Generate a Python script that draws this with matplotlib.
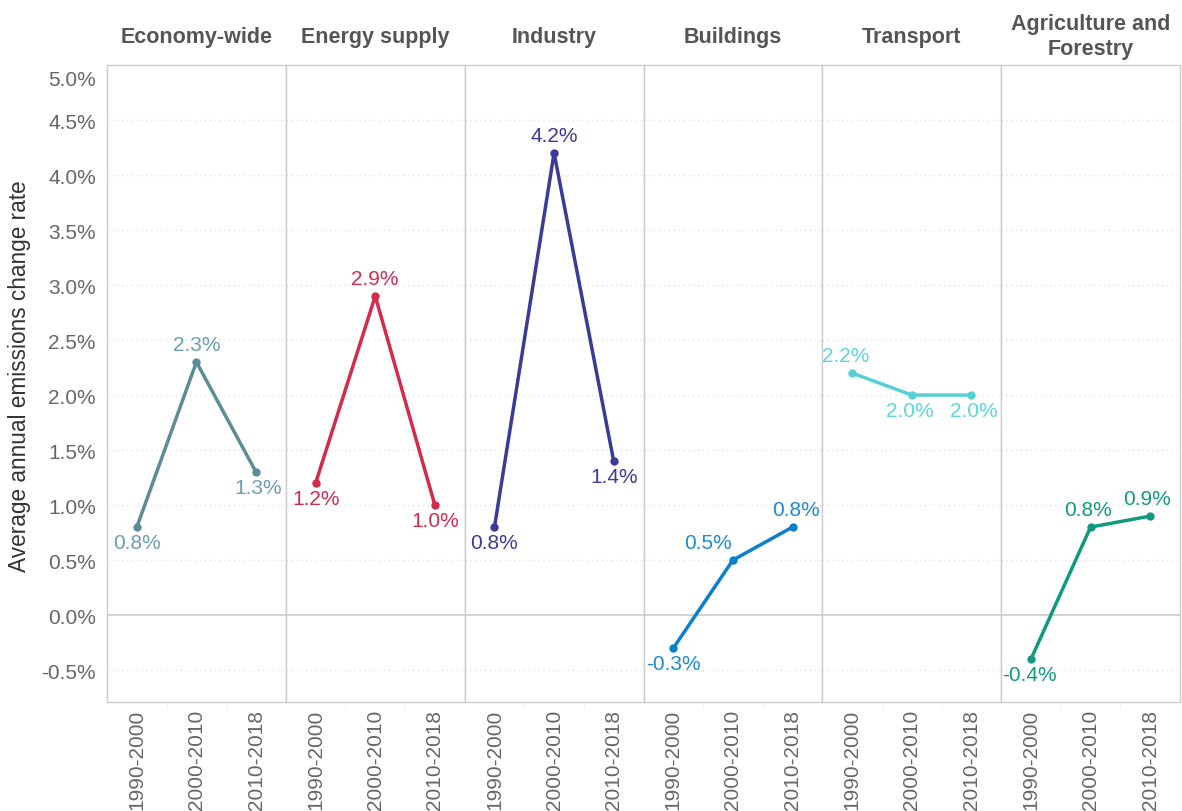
import matplotlib
matplotlib.use("Agg")
import matplotlib.pyplot as plt
import matplotlib.ticker as mticker
from matplotlib.transforms import ScaledTranslation

plt.rcParams['font.family'] = ['Liberation Sans', 'DejaVu Sans']

# Sectors and periods
sectors = ["Economy-wide", "Energy supply", "Industry", "Buildings",
           "Transport", "Agriculture and\nForestry"]
periods = ["1990-2000", "2000-2010", "2010-2018"]

# Average annual emissions change rate (%)
economy = [0.8, 2.3, 1.3]
energy = [1.2, 2.9, 1.0]
industry = [0.8, 4.2, 1.4]
buildings = [-0.3, 0.5, 0.8]
transport = [2.2, 2.0, 2.0]
agriculture = [-0.4, 0.8, 0.9]

series = [economy, energy, industry, buildings, transport, agriculture]
colors = ["#5b8c97", "#d42a4c", "#3a3a98", "#0b7fcb", "#55d1d6", "#0f9a80"]
label_colors = ["#6b9fab", "#d42a4c", "#3a3a98", "#1c8ad3", "#5ad6dc", "#0f9a80"]

# label placement per point: (dx pixels, side) ; side 1 = above, -1 = below
placement = [
    [(0, -1), (0, 1), (2, -1)],
    [(0, -1), (0, 1), (0, -1)],
    [(0, -1), (0, 1), (0, -1)],
    [(0, -1), (-25, 1), (3, 1)],
    [(-6, 1), (-2, -1), (2, -1)],
    [(-2, -1), (-3, 1), (-3, 1)],
]

fig, axes = plt.subplots(1, 6, figsize=(11.82, 8.12), dpi=100, sharey=True)
fig.subplots_adjust(left=107 / 1182, right=1180 / 1182,
                    top=1 - 66 / 812, bottom=1 - 703 / 812, wspace=0)

grid_c = "#e4e4e4"
border_c = "#cccccc"
text_c = "#666666"
fs = 15

x = list(range(len(periods)))
for i, ax in enumerate(axes):
    vals = series[i]
    ax.set_xlim(-0.5, 2.5)
    ax.set_ylim(-0.79, 5.0)
    for gy in [-0.5, 0.5, 1.0, 1.5, 2.0, 2.5, 3.0, 3.5, 4.0, 4.5]:
        ax.axhline(gy, color=grid_c, lw=1, ls=(0, (1, 2.5)), zorder=0)
    ax.axhline(0, color=border_c, lw=1.2, zorder=1)

    ax.plot(x, vals, color=colors[i], lw=2.5, marker="o", markersize=5,
            solid_capstyle="round", zorder=3)
    for j, v in enumerate(vals):
        dx, side = placement[i][j]
        dy = 18 if side > 0 else -15
        ax.annotate(f"{v:.1f}%", (j, v), xytext=(dx, dy),
                    textcoords="offset pixels", ha="center", va="center",
                    color=label_colors[i], fontsize=fs, zorder=4)

    for s in ax.spines.values():
        s.set_color(border_c)
        s.set_linewidth(1)

    ax.set_xticks(x)
    ax.set_xticklabels(periods, rotation=90, va="top", ha="center",
                       color=text_c, fontsize=fs)
    ax.set_xticks([0.5, 1.5], minor=True)
    ax.tick_params(axis="x", which="major", length=0, pad=5)
    ax.tick_params(axis="x", which="minor", length=5, color="#eeeeee")
    ax.tick_params(axis="y", length=0)

    # header centred over its panel
    pos = ax.get_position()
    fig.text((pos.x0 + pos.x1) / 2, 1 - 37 / 812, sectors[i],
             ha="center", va="center", fontsize=fs + 0.5, fontweight="bold",
             color="#555555", linespacing=1.3)

yticks = [-0.5, 0.0, 0.5, 1.0, 1.5, 2.0, 2.5, 3.0, 3.5, 4.0, 4.5, 5.0]
axes[0].set_yticks(yticks)
axes[0].yaxis.set_major_formatter(mticker.FuncFormatter(lambda v, p: f"{v:.1f}%"))
axes[0].tick_params(axis="y", labelsize=fs, labelcolor=text_c, pad=8)
fig.canvas.draw()
for lbl in axes[0].get_yticklabels():
    if lbl.get_text() == "5.0%":
        lbl.set_va("top")
        lbl.set_transform(lbl.get_transform()
                          + ScaledTranslation(0, -5 / 100, fig.dpi_scale_trans))

fig.text(20 / 1182, 1 - 376 / 812, "Average annual emissions change rate",
         rotation=90, ha="center", va="center", fontsize=16.3, color="#333333")

fig.savefig("out.png", dpi=100)
